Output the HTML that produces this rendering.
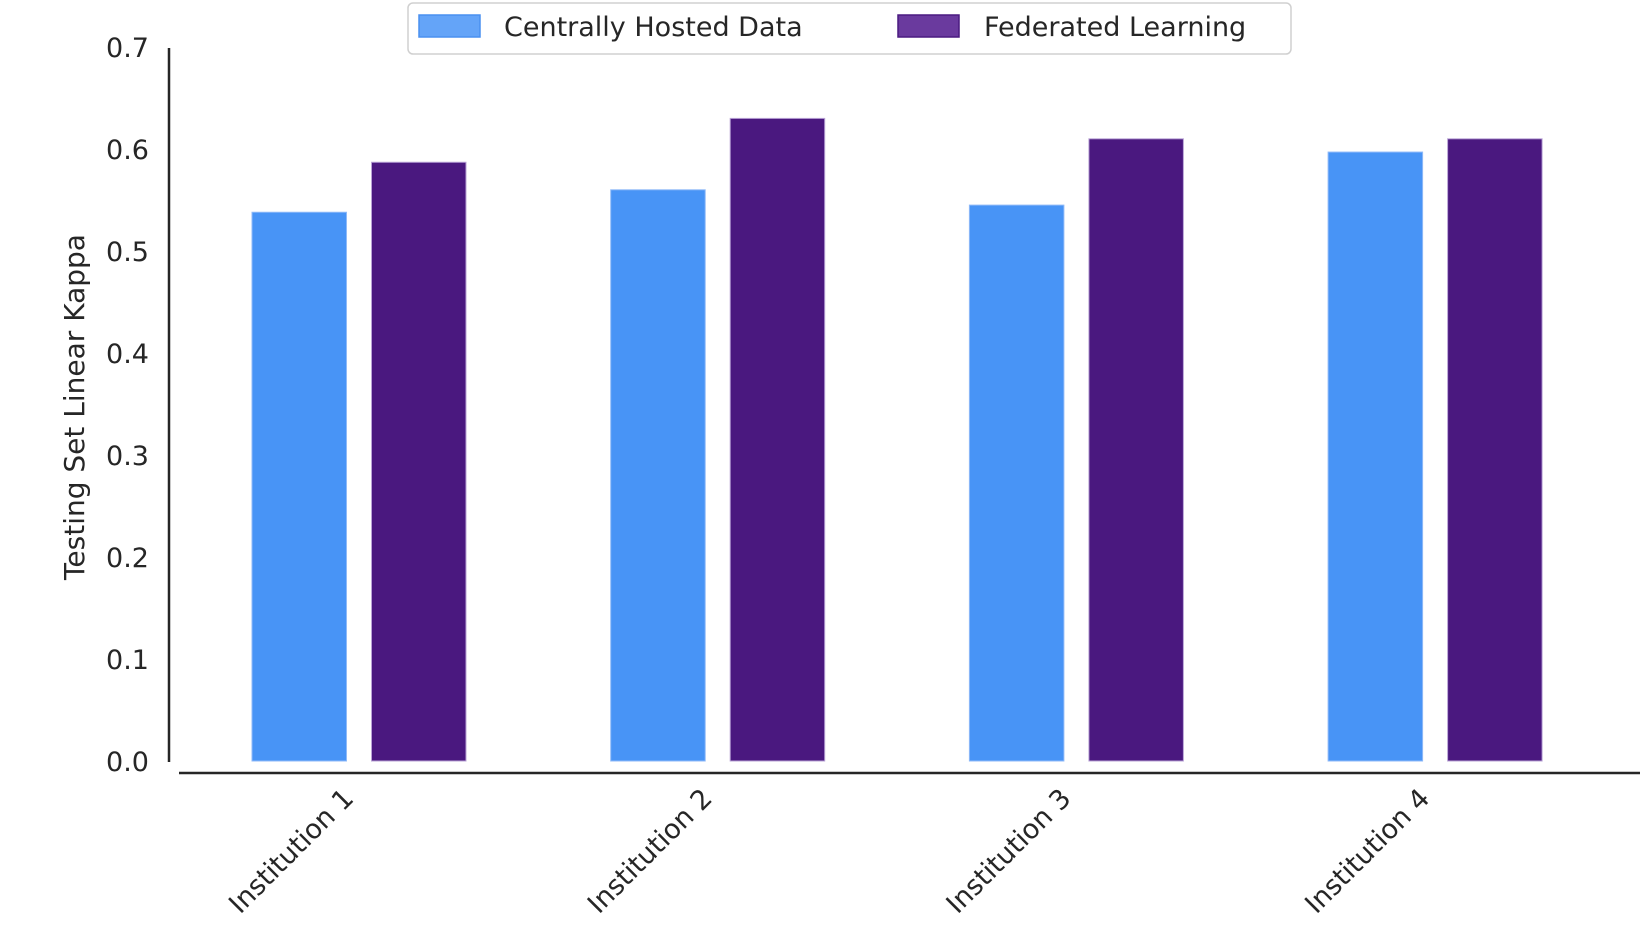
<!DOCTYPE html>
<html><head><meta charset="utf-8"><style>
html,body{margin:0;padding:0;background:#fff;}
svg{display:block;font-family:"DejaVu Sans","Liberation Sans",sans-serif;}
</style></head><body>
<svg id="chart" width="1640" height="942" viewBox="0 0 1640 942">
<g id="bars"></g>
<g id="yticks"></g>
<g id="xticks"></g>
<line x1="169" y1="48" x2="169" y2="762" stroke="#262626" stroke-width="2.5"/>
<line x1="179" y1="773" x2="1640" y2="773" stroke="#262626" stroke-width="2.5"/>
<text transform="translate(84,407) rotate(-90)" text-anchor="middle" font-size="28" fill="#262626">Testing Set Linear Kappa</text>
<g>
<rect x="408" y="3" width="883" height="51" rx="5" fill="#fff" stroke="#d0d0d0" stroke-width="1.5"/>
<g>
<rect x="419" y="15" width="61" height="22" fill="#64a4f8" stroke="#4a90f0" stroke-width="1.5"/>
<text x="504" y="36" font-size="27" fill="#262626">Centrally Hosted Data</text>
</g>
<g>
<rect x="898" y="15" width="61" height="22" fill="#6a3a9e" stroke="#4a1a80" stroke-width="1.5"/>
<text x="984" y="36" font-size="27" fill="#262626">Federated Learning</text>
</g>
</g>
</svg>
<script>
const categories = ["Institution 1","Institution 2","Institution 3","Institution 4"];
const centralValues = [0.538, 0.560, 0.545, 0.597];
const federatedValues = [0.587, 0.630, 0.610, 0.610];
const yTickLabels = ["0.0","0.1","0.2","0.3","0.4","0.5","0.6","0.7"];
const yTickValues = [0,0.1,0.2,0.3,0.4,0.5,0.6,0.7];

const NS = "http://www.w3.org/2000/svg";
const y0 = 761, pxPerUnit = 1020;
function yScale(v){ return y0 - v * pxPerUnit; }
function xCenter(i){ return 359 + 358.7 * i; }
const barW = 94.5, offset = 59.75;

const bars = document.getElementById('bars');
function addBar(i, v, off, fill, stroke, name){
  const r = document.createElementNS(NS,'rect');
  const top = yScale(v);
  r.setAttribute('x', xCenter(i) + off - barW/2);
  r.setAttribute('y', top);
  r.setAttribute('width', barW);
  r.setAttribute('height', y0 - top);
  r.setAttribute('fill', fill);
  r.setAttribute('stroke', stroke);
  r.setAttribute('stroke-width', '1');
  
  
  bars.appendChild(r);
}
categories.forEach((c,i)=>{
  addBar(i, centralValues[i], -offset, '#4894f6', '#8fbaf8', 'bar-central-' + (i+1));
  addBar(i, federatedValues[i], offset, '#4a187f', '#b9a3d6', 'bar-federated-' + (i+1));
});

const yt = document.getElementById('yticks');
yTickValues.forEach((v,i)=>{
  const t = document.createElementNS(NS,'text');
  t.setAttribute('x', 149);
  t.setAttribute('y', yScale(v) + 10);
  t.setAttribute('text-anchor','end');
  t.setAttribute('font-size','27');
  t.setAttribute('fill','#262626');
  t.textContent = yTickLabels[i];
  
  
  yt.appendChild(t);
});

const xt = document.getElementById('xticks');
categories.forEach((c,i)=>{
  const t = document.createElementNS(NS,'text');
  const x = xCenter(i) - 4, y = 800;
  t.setAttribute('transform', 'translate(' + x + ',' + y + ') rotate(-45)');
  t.setAttribute('text-anchor','end');
  t.setAttribute('font-size','27');
  t.setAttribute('fill','#262626');
  t.textContent = c;
  
  
  xt.appendChild(t);
});
</script>
</body></html>
